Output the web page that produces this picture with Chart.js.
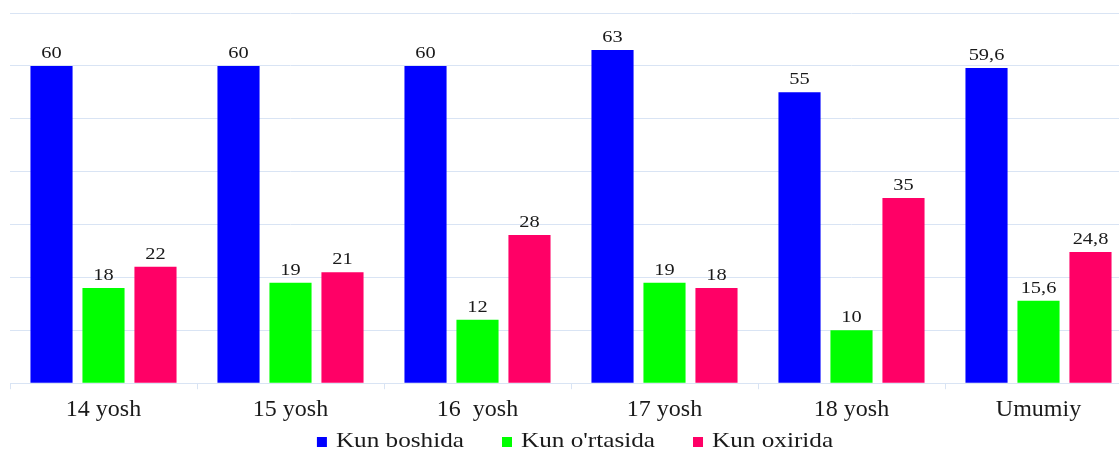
<!DOCTYPE html>
<html>
<head>
<meta charset="utf-8">
<script src="https://cdn.jsdelivr.net/npm/chart.js@4/dist/chart.umd.min.js"></script>
<style>
  html, body { margin: 0; padding: 0; background: #fff; overflow: hidden; }
  #wrap { width: 1132px; height: 450px; }
</style>
</head>
<body>
<div id="wrap"><canvas id="dayChart"></canvas></div>
<script>
// Kun davomidagi ko'rsatkichlar, yosh bo'yicha
const categories = ['14 yosh', '15 yosh', '16  yosh', '17 yosh', '18 yosh', 'Umumiy'];
const seriesNames = ['Kun boshida', "Kun o'rtasida", 'Kun oxirida'];
const kunBoshida = [60, 60, 60, 63, 55, 59.6];
const kunOrtasida = [18, 19, 12, 19, 10, 15.6];
const kunOxirida = [22, 21, 28, 18, 35, 24.8];
const yTicks = [0, 10, 20, 30, 40, 50, 60, 70];

const colors = ['#0000ff', '#00ff00', '#ff0066'];
const gridColor = '#d9e4f4';
const serif = '"Liberation Serif", "Times New Roman", serif';

// kengaytirilgan matn (eni bo'yicha cho'zilgan)
function wideText(ctx, text, x, y, sx) {
    ctx.save();
    ctx.translate(x, y);
    ctx.scale(sx, 1);
    ctx.fillText(text, 0, 0);
    ctx.restore();
}

// qiymatlarni ustunlar tepasiga yozish
const valueLabels = {
    id: 'valueLabels',
    afterDatasetsDraw(chart) {
        const ctx = chart.ctx;
        ctx.save();
        ctx.font = '17px ' + serif;
        ctx.fillStyle = '#1a1a1a';
        ctx.textAlign = 'center';
        ctx.textBaseline = 'alphabetic';
        chart.data.datasets.forEach((ds, i) => {
            chart.getDatasetMeta(i).data.forEach((bar, j) => {
                wideText(ctx, String(ds.data[j]).replace('.', ','), bar.x, bar.y - 8, 1.2);
            });
        });
        ctx.restore();
    }
};

// pastdagi legenda
const bottomLegend = {
    id: 'bottomLegend',
    afterDraw(chart) {
        const ctx = chart.ctx;
        const sx = 1.2, box = 10, boxGap = 9, itemGap = 38;
        ctx.save();
        ctx.font = '21px ' + serif;
        ctx.textBaseline = 'middle';
        ctx.textAlign = 'left';
        const items = chart.data.datasets.map(ds => ({
            text: ds.label,
            color: ds.backgroundColor,
            w: ctx.measureText(ds.label).width * sx
        }));
        const total = items.reduce((s, it) => s + box + boxGap + it.w, 0) + itemGap * (items.length - 1);
        const area = chart.chartArea;
        let x = (area.left + area.right) / 2 - total / 2 + 4;
        const y = 441;
        items.forEach(it => {
            ctx.fillStyle = it.color;
            ctx.fillRect(x, y - box / 2 + 1, box, box);
            x += box + boxGap;
            ctx.fillStyle = '#1a1a1a';
            wideText(ctx, it.text, x, y, sx);
            x += it.w + itemGap;
        });
        ctx.restore();
    }
};

const ctx = document.getElementById('dayChart').getContext('2d');
new Chart(ctx, {
    type: 'bar',
    data: {
        labels: categories,
        datasets: [kunBoshida, kunOrtasida, kunOxirida].map((d, i) => ({
            label: seriesNames[i],
            data: d,
            backgroundColor: colors[i],
            borderWidth: 0,
            categoryPercentage: 0.834,
            barPercentage: 0.81
        }))
    },
    options: {
        responsive: true,
        maintainAspectRatio: false,
        animation: false,
        layout: { padding: { top: 13, left: 10, right: 0, bottom: 20 } },
        scales: {
            x: {
                grid: {
                    offset: true,
                    drawOnChartArea: false,
                    drawTicks: true,
                    tickLength: 6,
                    color: gridColor
                },
                border: { color: gridColor, width: 1 },
                ticks: {
                    color: '#1a1a1a',
                    padding: 6,
                    font: { family: serif, size: 24 }
                }
            },
            y: {
                min: yTicks[0],
                max: yTicks[yTicks.length - 1],
                afterBuildTicks(axis) {
                    axis.ticks = yTicks.map(v => ({ value: v }));
                },
                grid: { color: gridColor, drawTicks: false },
                border: { display: false },
                ticks: { display: false }
            }
        },
        plugins: {
            legend: { display: false },
            tooltip: { enabled: false }
        }
    },
    plugins: [valueLabels, bottomLegend]
});
</script>
</body>
</html>
